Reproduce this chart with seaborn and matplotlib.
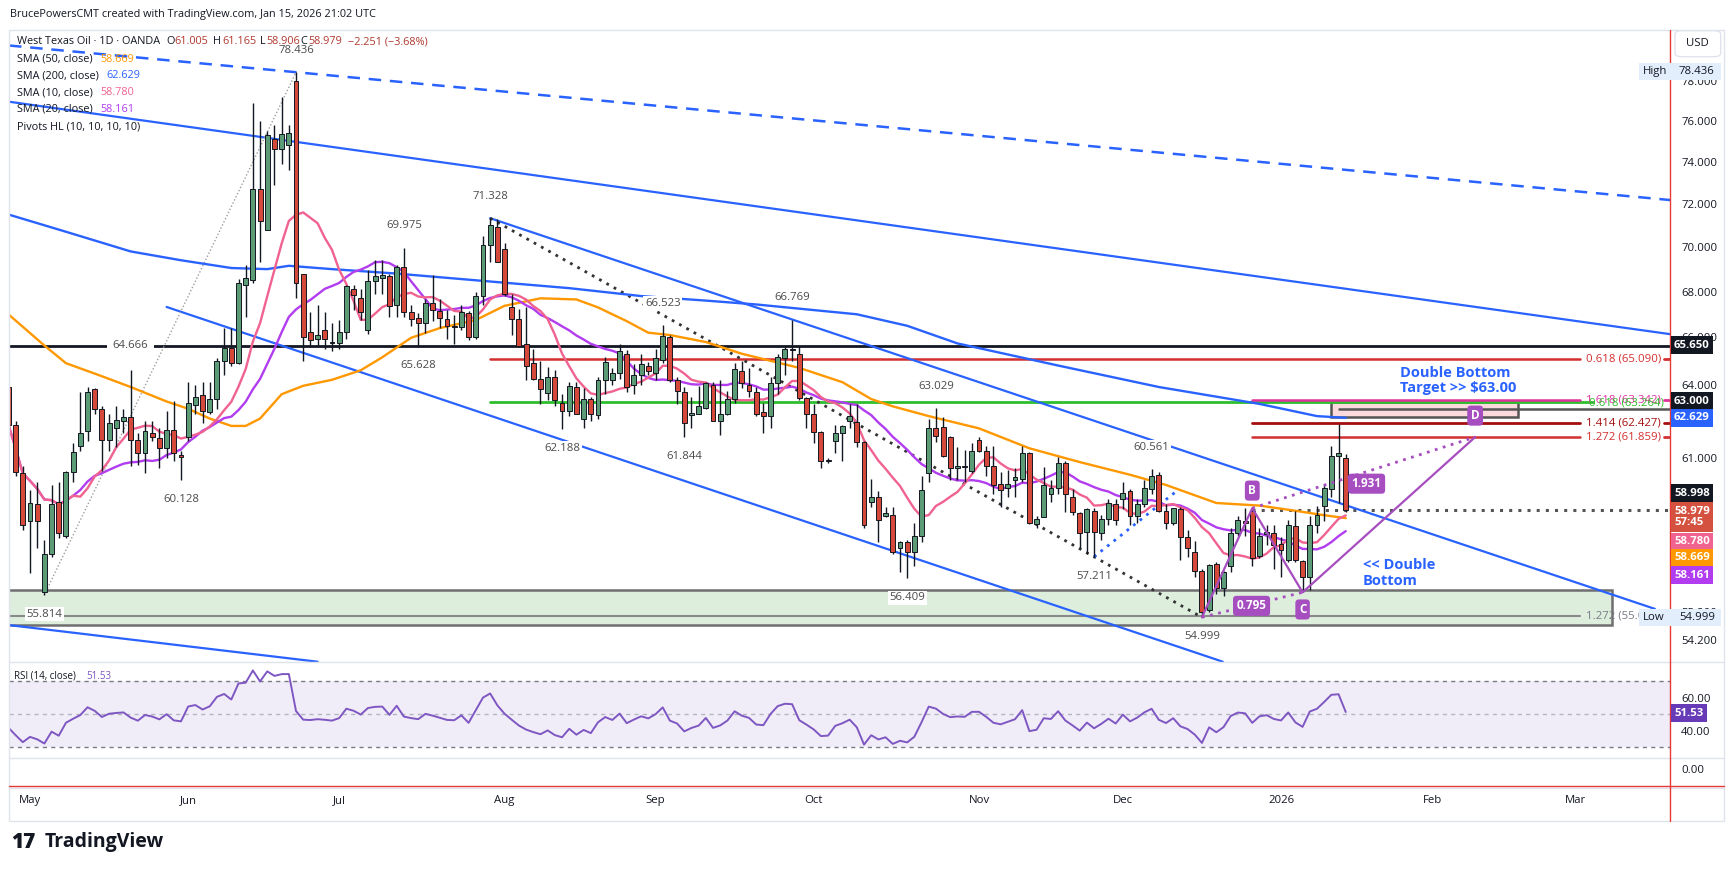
import numpy as np
import pandas as pd
import matplotlib
matplotlib.use('Agg')
import matplotlib.pyplot as plt
import seaborn as sns
from matplotlib.patches import Rectangle, FancyBboxPatch
from matplotlib.lines import Line2D
from matplotlib.ticker import FixedLocator, FuncFormatter, NullLocator, NullFormatter

# ---- daily bars: bar 0 = 1 May 2025 (weekdays, no 25 Dec / 1 Jan) ----
first_bar = -3
opens = [
    63.9, 62.35, 60.4, 58.56, 59.2, 55.9, 57.3, 59.3, 58.0, 60.45,
    61.5, 62.1, 63.8, 63.0, 61.75, 62.2, 62.5, 62.65, 61.75, 61.2,
    62.0, 61.8, 61.4, 62.15, 61.15, 61.85, 63.15, 63.55, 62.85, 63.4,
    65.0, 65.55, 64.9, 68.3, 68.5, 72.7, 70.8, 75.1, 74.6, 74.8,
    78.0, 68.8, 66.25, 65.95, 66.3, 65.8, 65.75, 66.25, 68.1, 67.7,
    66.3, 68.45, 68.6, 68.7, 67.4, 69.1, 67.1, 66.85, 66.6, 67.5,
    67.15, 66.8, 66.5, 66.45, 67.05, 66.0, 67.8, 70.1, 70.9, 69.9,
    67.3, 66.8, 65.7, 64.9, 64.25, 63.65, 64.3, 63.25, 62.9, 63.9,
    62.6, 63.4, 62.75, 64.2, 64.2, 64.5, 65.3, 64.0, 64.4, 64.8,
    64.5, 65.05, 66.0, 64.2, 63.7, 62.75, 62.8, 63.05, 64.0, 62.5,
    62.8, 63.4, 64.55, 64.0, 63.7, 62.85, 62.7, 64.05, 65.1, 65.5,
    65.3, 63.45, 62.8, 62.05, 60.9, 61.7, 62.0, 62.5, 62.45, 61.65,
    59.3, 59.5, 58.75, 58.8, 57.55, 57.75, 57.4, 58.0, 60.4, 62.2,
    62.25, 61.85, 60.6, 60.7, 60.5, 61.75, 61.3, 60.7, 60.0, 59.85,
    60.15, 60.2, 61.2, 58.45, 58.7, 59.6, 59.85, 60.8, 59.5, 58.85,
    58.15, 58.95, 58.1, 58.65, 59.2, 59.4, 59.7, 58.75, 59.2, 59.8,
    60.35, 58.95, 58.5, 59.0, 57.95, 57.4, 56.7, 55.25, 56.95, 56.05,
    56.85, 58.1, 58.55, 58.95, 57.25, 58.05, 58.1, 57.7, 57.1, 58.35,
    57.05, 56.45, 58.4, 59.15, 59.8, 61.1, 61.005,
]
highs = [
    64.0, 62.5, 60.7, 59.75, 60.05, 57.84, 59.95, 60.05, 60.5, 61.6,
    63.7, 63.9, 63.85, 63.1, 62.8, 63.1, 63.0, 64.6, 62.0, 62.5,
    62.5, 62.2, 62.9, 63.3, 61.3, 64.1, 64.0, 64.1, 64.1, 65.1,
    66.4, 66.4, 68.55, 69.2, 76.9, 76.0, 75.5, 75.8, 77.2, 75.8,
    78.436, 68.8, 67.1, 67.4, 67.1, 66.6, 66.75, 68.3, 68.3, 68.1,
    68.95, 69.4, 69.4, 68.8, 69.2, 69.975, 67.4, 67.05, 67.65, 68.75,
    67.65, 67.2, 66.95, 67.4, 67.15, 68.0, 70.5, 71.328, 71.3, 70.2,
    67.9, 67.25, 67.3, 65.5, 65.0, 64.75, 64.6, 63.6, 64.1, 64.1,
    63.85, 63.5, 64.3, 65.15, 64.7, 65.7, 65.45, 64.85, 65.3, 64.95,
    65.5, 66.523, 66.1, 64.3, 63.9, 63.5, 63.95, 64.1, 64.1, 64.2,
    63.75, 64.9, 65.0, 64.7, 63.9, 63.25, 64.3, 65.3, 65.6, 66.769,
    65.65, 63.5, 63.2, 62.1, 61.0, 62.35, 62.35, 63.2, 63.2, 61.7,
    60.2, 59.7, 59.1, 59.1, 57.8, 57.85, 58.5, 60.3, 62.6, 63.029,
    62.65, 61.9, 61.45, 61.35, 61.6, 61.85, 61.5, 61.5, 60.45, 60.55,
    60.6, 61.5, 61.25, 58.75, 60.65, 60.15, 61.05, 60.9, 59.8, 58.9,
    59.05, 59.05, 58.8, 59.4, 59.4, 60.05, 59.8, 59.4, 60.15, 60.561,
    60.45, 59.2, 59.05, 59.1, 58.2, 57.8, 56.75, 56.95, 57.0, 56.7,
    58.3, 58.75, 59.07, 59.05, 58.3, 58.4, 58.4, 57.95, 58.6, 58.95,
    57.1, 58.75, 59.15, 59.95, 61.5, 62.37, 61.165,
]
lows = [
    62.2, 60.3, 58.2, 56.6, 57.55, 55.814, 57.2, 57.9, 57.9, 60.05,
    61.3, 61.7, 62.8, 60.5, 61.3, 61.45, 62.0, 60.7, 60.75, 60.4,
    61.7, 60.6, 61.0, 60.9, 60.128, 61.7, 62.8, 62.4, 62.8, 63.0,
    64.4, 64.8, 64.85, 66.9, 68.4, 69.3, 70.8, 72.9, 73.9, 73.6,
    67.7, 65.0, 65.6, 65.65, 65.5, 65.4, 65.5, 65.95, 67.2, 66.75,
    66.15, 67.9, 67.9, 66.9, 66.9, 66.9, 66.5, 65.628, 66.2, 66.7,
    66.4, 65.95, 65.7, 66.3, 65.9, 65.95, 67.4, 69.3, 69.3, 67.8,
    66.1, 65.6, 64.2, 64.2, 63.2, 63.35, 63.1, 62.188, 62.7, 62.8,
    62.2, 62.5, 62.6, 63.6, 64.0, 64.25, 63.7, 63.6, 64.0, 64.4,
    64.2, 64.9, 64.1, 63.2, 61.844, 62.2, 62.8, 63.0, 62.5, 61.95,
    62.75, 63.25, 63.85, 63.5, 62.7, 62.0, 62.2, 63.6, 64.4, 65.0,
    63.35, 62.2, 61.6, 60.6, 60.8, 61.2, 60.9, 62.2, 61.45, 58.3,
    59.1, 57.75, 58.7, 57.3, 56.65, 56.409, 56.85, 57.77, 60.05, 61.65,
    61.05, 60.15, 60.15, 60.05, 60.4, 61.25, 60.3, 59.6, 59.1, 59.5,
    59.5, 60.05, 58.45, 58.3, 58.7, 59.3, 59.6, 58.9, 58.8, 57.55,
    57.3, 57.211, 57.85, 58.4, 58.4, 59.0, 58.4, 58.5, 59.1, 59.6,
    58.9, 58.25, 58.4, 57.1, 57.2, 56.45, 54.999, 55.2, 55.85, 55.75,
    56.65, 58.0, 58.0, 56.85, 57.15, 57.65, 56.75, 56.45, 57.0, 57.0,
    55.9, 56.0, 58.1, 58.55, 59.5, 59.25, 58.906,
]
closes = [
    62.35, 60.45, 58.4, 59.25, 58.56, 57.3, 59.2, 58.1, 60.45, 61.25,
    62.0, 63.7, 63.0, 61.75, 62.4, 62.55, 62.65, 61.75, 61.2, 62.1,
    61.85, 61.4, 62.15, 61.2, 61.05, 63.25, 63.5, 62.9, 63.4, 65.0,
    65.55, 64.9, 68.4, 68.6, 72.7, 71.2, 75.3, 74.6, 75.35, 75.4,
    68.4, 66.0, 65.9, 66.1, 65.95, 65.75, 66.25, 68.25, 67.85, 67.1,
    68.45, 68.7, 68.75, 67.35, 69.1, 67.1, 66.8, 66.6, 67.5, 67.2,
    66.85, 66.5, 66.45, 67.1, 66.0, 67.8, 70.1, 71.0, 69.3, 67.9,
    66.8, 65.65, 64.8, 64.25, 63.8, 64.3, 63.35, 62.9, 63.95, 62.8,
    63.4, 62.8, 64.2, 64.95, 64.5, 65.4, 63.9, 64.4, 64.85, 64.55,
    65.1, 66.05, 64.2, 63.75, 62.4, 62.82, 63.1, 64.05, 62.5, 62.8,
    63.4, 64.65, 64.05, 63.75, 62.8, 62.7, 64.05, 65.15, 65.5, 65.45,
    63.45, 62.8, 62.05, 60.9, 60.95, 62.0, 62.3, 62.7, 61.65, 58.4,
    59.5, 58.6, 58.85, 57.4, 57.75, 57.4, 58.0, 59.75, 62.2, 61.9,
    61.1, 60.6, 60.7, 60.65, 61.3, 61.3, 60.7, 59.95, 59.75, 60.0,
    60.25, 61.2, 58.5, 58.65, 59.95, 59.85, 60.8, 59.6, 58.9, 58.1,
    59.0, 58.15, 58.65, 59.25, 58.6, 59.65, 58.75, 59.2, 59.85, 60.3,
    58.95, 58.5, 59.05, 57.95, 57.55, 56.7, 55.2, 56.9, 56.05, 56.65,
    58.1, 58.6, 58.5, 57.15, 58.0, 58.15, 57.65, 57.45, 58.4, 57.1,
    56.45, 58.4, 58.8, 59.85, 61.1, 61.2, 58.979,
]

# SMA 50 / SMA 200 (bar, value)
sma50_bars = [-3, 2, 5, 10, 14, 19, 22, 25, 28, 30, 32, 35, 38, 42, 46, 49, 53, 57, 62, 66, 71, 76, 79, 83,
              86, 89, 94, 99, 103, 107, 113, 117, 120, 125, 132, 139, 146, 153, 158, 165, 171, 176, 180, 183]
sma50_vals = [67.0, 65.65, 64.9, 64.35, 63.9, 63.3, 63.0, 62.6, 62.3, 62.3, 62.6, 63.6, 63.95, 64.2, 64.6, 65.15,
              65.98, 66.4, 66.75, 67.37, 67.7, 67.65, 67.3, 66.7, 66.2, 66.1, 65.8, 65.3, 65.0, 64.7, 64.1, 63.4,
              63.1, 62.7, 62.2, 61.4, 60.85, 60.35, 59.95, 59.25, 59.15, 58.95, 58.78, 58.669]
sma200_bars = [-3, 5, 14, 21, 28, 33, 36, 42, 51, 62, 75, 85, 94, 101, 115, 122, 129, 143, 157, 171, 179, 183]
sma200_vals = [71.5, 70.7, 69.8, 69.4, 69.05, 69.0, 69.15, 69.0, 68.8, 68.5, 68.15, 67.8, 67.6, 67.43, 67.0,
               66.5, 65.74, 64.8, 63.9, 63.2, 62.7, 62.629]

# starting Wilder averages for RSI(14) at the first bar
rsi_gain0, rsi_loss0 = 0.50, 0.69

pivot_high_bars = [37, 52, 64, 88, 106, 126, 156]
pivot_low_bars = [2, 21, 54, 74, 91, 122, 148, 163]

month_bars = [0, 22, 43, 66, 87, 109, 132, 152, 174, 195, 215]
month_names = ['May', 'Jun', 'Jul', 'Aug', 'Sep', 'Oct', 'Nov', 'Dec', '2026', 'Feb', 'Mar']
price_ticks = [54.2, 55.2, 61, 64, 66, 68, 70, 72, 74, 76, 78]

# ---------------- style ----------------
sns.set_theme(style='white')
plt.rcParams['font.family'] = ['Open Sans', 'DejaVu Sans']

UP, DOWN, INK = '#5b9c76', '#d4493a', '#131722'
BLUE, ORANGE, PINK, PURPLE = '#2962ff', '#ff9800', '#f0628f', '#b23cf0'
RSI_C, PATTERN = '#7e57c2', '#a64dbf'
FIB_RED, FIB_DARK, FIB_GREEN, FIB_MAG, FIB_GREY = '#d32f2f', '#a50e0e', '#2dbf2d', '#e0309e', '#8a8a8a'
FS = 7.8  # small chart text

W, H = 1735, 872
fig = plt.figure(figsize=(W / 100, H / 100), dpi=100)
fig.patch.set_facecolor('white')


def fx(x):
    return x / W


def fy(y):
    return 1 - y / H


PANE_L, PANE_R = 9, 1670


def pane(top, bottom, share=None):
    a = fig.add_axes([fx(PANE_L), fy(bottom), (PANE_R - PANE_L) / W, (bottom - top) / H], sharex=share)
    a.set_facecolor('white')
    for s in a.spines.values():
        s.set_visible(False)
    return a


ax = pane(30, 662)
ax_rsi = pane(662, 758, ax)
ax_low = pane(758, 788, ax)

df = pd.DataFrame({'bar': np.arange(first_bar, first_bar + len(closes)),
                   'open': opens, 'high': highs, 'low': lows, 'close': closes})
df['sma10'] = df['close'].rolling(10, min_periods=1).mean()
df['sma20'] = df['close'].rolling(20, min_periods=1).mean()

ag, al = rsi_gain0, rsi_loss0
rsi = [100 - 100 / (1 + ag / al)]
for d in np.diff(df['close'].values):
    ag = (ag * 13 + max(d, 0)) / 14
    al = (al * 13 + max(-d, 0)) / 14
    rsi.append(100 - 100 / (1 + ag / al))
df['rsi'] = rsi

sma50 = pd.DataFrame({'bar': sma50_bars, 'value': sma50_vals})
sma200 = pd.DataFrame({'bar': sma200_bars, 'value': sma200_vals})

# ---------------- price pane ----------------
ax.set_yscale('log')

# support zone
ax.add_patch(Rectangle((-5, 54.72), 225, 56.0 - 54.72, fc='#ddeedd', ec='#6f6f6f', lw=1.8, zorder=1))
# target box
ax.add_patch(Rectangle((180.9, 62.65), 26.1, 63.28 - 62.65, fc='#fbd9dc', ec='#555555', lw=1.8, zorder=2))
ax.plot([182, 240], [63.0, 63.0], color='#555555', lw=1.8, zorder=2)

# horizontal levels
ax.plot([-5, 240], [65.65, 65.65], color=INK, lw=2, zorder=2)
ax.plot([64, 215.6], [65.09, 65.09], color=FIB_RED, lw=1.8, zorder=2)
ax.plot([64, 217.4], [63.264, 63.264], color=FIB_GREEN, lw=2, zorder=2)
ax.plot([170, 215.6], [63.342, 63.342], color=FIB_MAG, lw=1.8, zorder=2)
ax.plot([170, 215.6], [62.427, 62.427], color=FIB_DARK, lw=2, zorder=2)
ax.plot([170, 215.6], [61.859, 61.859], color=FIB_RED, lw=1.8, zorder=2)
ax.plot([-5, 215.6], [55.05, 55.05], color=FIB_GREY, lw=1.5, zorder=1.5)
ax.plot([170, 240], [58.998, 58.998], color='#555555', lw=2.2, ls=(0, (1, 2)), zorder=2)
for lvl, col in [(65.09, FIB_RED), (63.342, FIB_MAG), (62.427, FIB_DARK), (61.859, FIB_RED)]:
    ax.plot([227.3, 228.2], [lvl, lvl], color=col, lw=2, zorder=2)

# trend / channel lines
ax.plot([-2.92, 228.3], [79.82, 72.17], color=BLUE, lw=1.8, ls=(0, (5, 3.5)), zorder=2)
ax.plot([-2.92, 228.3], [76.95, 66.13], color=BLUE, lw=1.6, zorder=2)
ax.plot([19.0, 165.9], [67.32, 53.43], color=BLUE, lw=1.6, zorder=2)
ax.plot([64, 226], [71.328, 55.3], color=BLUE, lw=1.6, zorder=2)
ax.plot([-2.92, 40], [54.72, 53.43], color=BLUE, lw=1.6, zorder=2)

# zigzag / dotted guides
ax.plot([2, 37], [55.814, 78.436], color='#9e9e9e', lw=1, ls=(0, (1, 1.5)), zorder=2)
ax.plot([64, 163], [71.328, 54.999], color='#333333', lw=2, ls=(0, (1, 2)), zorder=2)
ax.plot([148, 159.7], [57.211, 59.76], color=BLUE, lw=2, ls=(0, (1, 2)), zorder=2)

# moving averages
sns.lineplot(data=sma200, x='bar', y='value', ax=ax, color=BLUE, linewidth=1.7, zorder=3)
sns.lineplot(data=sma50, x='bar', y='value', ax=ax, color=ORANGE, linewidth=1.7, zorder=3)
sns.lineplot(data=df, x='bar', y='sma20', ax=ax, color=PURPLE, linewidth=1.7, zorder=3)
sns.lineplot(data=df, x='bar', y='sma10', ax=ax, color=PINK, linewidth=1.7, zorder=3)

# candles
rising = df['close'] >= df['open']
body_low = df[['open', 'close']].min(axis=1)
body_h = (df['close'] - df['open']).abs().clip(lower=0.04)
ax.vlines(df['bar'], df['low'], df['high'], color=INK, lw=1, zorder=5)
ax.bar(df['bar'], body_h, bottom=body_low, width=0.68, color=np.where(rising, UP, DOWN),
       edgecolor=INK, linewidth=0.7, zorder=6)

# ABCD pattern
ax.plot([163, 170, 177, 201], [54.999, 59.05, 55.9, 61.85], color=PATTERN, lw=1.6, zorder=7)
ax.plot([163, 177], [54.999, 55.9], color=PATTERN, lw=2, ls=(0, (1, 2)), zorder=7)
ax.plot([170, 201], [59.05, 61.85], color=PATTERN, lw=2, ls=(0, (1, 2)), zorder=7)
for xb, yb, t in [(170, 59.73, 'B'), (177, 55.28, 'C'), (201, 62.72, 'D'), (169.9, 55.41, '0.795'),
                  (185.9, 60.0, '1.931')]:
    ax.text(xb, yb, t, ha='center', va='center', fontsize=8.5, color='white', fontweight='bold', zorder=9,
            bbox=dict(boxstyle='round,pad=0.3', fc=PATTERN, ec='none'))

# pivot labels
lab_box = dict(boxstyle='square,pad=0.15', fc='white', ec='none')
for b in pivot_high_bars:
    v = df.loc[df['bar'] == b, 'high'].iloc[0]
    ax.annotate(f'{v:.3f}', xy=(b, v), xytext=(0, 15.8), textcoords='offset points', ha='center', va='center',
                fontsize=8.2, color='#4a4a4a', bbox=lab_box, zorder=8)
for b in pivot_low_bars:
    v = df.loc[df['bar'] == b, 'low'].iloc[0]
    ax.annotate(f'{v:.3f}', xy=(b, v), xytext=(0, -14), textcoords='offset points', ha='center', va='center',
                fontsize=8.2, color='#4a4a4a', bbox=lab_box, zorder=8)
ax.text(14, 65.65, '64.666', ha='center', va='center', fontsize=8.2, color='#4a4a4a',
        bbox=dict(boxstyle='square,pad=0.5', fc='white', ec='none'), zorder=8)

# fib level labels
ax.text(216.4, 65.09, '0.618 (65.090)', ha='left', va='center', fontsize=8.2, color=FIB_RED, zorder=8)
ax.text(216.4, 63.36, '1.618 (63.342)', ha='left', va='center', fontsize=8.2, color=FIB_MAG, zorder=8)
ax.text(216.9, 63.24, '0.618 (63.264)', ha='left', va='center', fontsize=8.2, color=FIB_GREEN, zorder=8)
ax.text(216.4, 62.427, '1.414 (62.427)', ha='left', va='center', fontsize=8.2, color=FIB_DARK, zorder=8)
ax.text(216.4, 61.859, '1.272 (61.859)', ha='left', va='center', fontsize=8.2, color=FIB_RED, zorder=8)
ax.text(216.4, 55.05, '1.272 (55.050)', ha='left', va='center', fontsize=8.2, color='#787b86', zorder=8)

# notes
note = dict(fontsize=10.5, color=BLUE, fontweight='bold', ha='left', va='center', zorder=8)
ax.text(190.5, 64.5, 'Double Bottom', **note)
ax.text(190.5, 63.85, 'Target >> $63.00', **note)
ax.text(185.4, 56.9, '<< Double', **note)
ax.text(185.4, 56.33, 'Bottom', **note)

ax.set_xlim(-2.92, 228.1)
ax.set_ylim(53.42, 80.63)
ax.yaxis.tick_right()
ax.yaxis.set_major_locator(FixedLocator(price_ticks))
ax.yaxis.set_minor_locator(NullLocator())
ax.yaxis.set_minor_formatter(NullFormatter())
ax.yaxis.set_major_formatter(FuncFormatter(lambda v, _: f'{v:.3f}'))
ax.tick_params(axis='y', length=0, pad=8, labelsize=8.2, labelcolor=INK)
ax.tick_params(axis='x', length=0, labelbottom=False)
ax.set_xlabel('')
ax.set_ylabel('')

# ---------------- RSI pane ----------------
ax_rsi.axhspan(30, 70, color=RSI_C, alpha=0.1, lw=0)
ax_rsi.axhline(70, color='#787b86', lw=1, ls=(0, (3, 3)))
ax_rsi.axhline(50, color='#b2b5be', lw=1, ls=(0, (3, 3)))
ax_rsi.axhline(30, color='#787b86', lw=1, ls=(0, (3, 3)))
sns.lineplot(data=df, x='bar', y='rsi', ax=ax_rsi, color=RSI_C, linewidth=1.4)
ax_rsi.set_ylim(23.6, 81.8)
ax_rsi.yaxis.tick_right()
ax_rsi.set_yticks([40, 60])
ax_rsi.set_yticklabels(['40.00', '60.00'])
ax_rsi.tick_params(axis='y', length=0, pad=8, labelsize=8.2, labelcolor=INK)
ax_rsi.tick_params(axis='x', length=0, labelbottom=False)
ax_rsi.set_xlabel('')
ax_rsi.set_ylabel('')

# ---------------- bottom pane + time axis ----------------
ax_low.set_ylim(-19, 11)
ax_low.yaxis.tick_right()
ax_low.set_yticks([0])
ax_low.set_yticklabels(['0.00'])
ax_low.tick_params(axis='y', length=0, pad=8, labelsize=8.2, labelcolor=INK)
ax_low.set_xticks(month_bars)
ax_low.set_xticklabels(month_names)
ax_low.tick_params(axis='x', length=0, pad=5, labelsize=8.2, labelcolor=INK)
ax_low.set_xlim(-2.92, 228.1)

# ---------------- frame, separators, crosshair ----------------
fig.add_artist(Rectangle((fx(9), fy(821)), (1724 - 9) / W, (821 - 30) / H, transform=fig.transFigure,
                         fc='none', ec='#e0e3eb', lw=1, zorder=1))
for ysep in [662, 758, 788]:
    fig.add_artist(Line2D([fx(9), fx(1724)], [fy(ysep), fy(ysep)], color='#e0e3eb', lw=1, zorder=2))
fig.add_artist(Line2D([fx(1670), fx(1670)], [fy(30), fy(821)], color='#e53935', lw=1, zorder=4))
fig.add_artist(Line2D([fx(9), fx(1724)], [fy(786), fy(786)], color='#e53935', lw=1, zorder=4))

# ---------------- header & legend ----------------
fig.text(fx(10), fy(15), 'BrucePowersCMT created with TradingView.com, Jan 15, 2026 21:02 UTC',
         fontsize=FS, color=INK, va='center')
fig.text(fx(17), fy(42), 'West Texas Oil · 1D · OANDA', fontsize=FS, color=INK, va='center')
VAL_RED = '#b0392f'
for xl, letter, xv, val in [(166, 'O', 174, '61.005'), (213, 'H', 222, '61.165'), (260, 'L', 266, '58.906'),
                            (300, 'C', 308, '58.979')]:
    fig.text(fx(xl), fy(42), letter, fontsize=FS, color=INK, va='center')
    fig.text(fx(xv), fy(42), val, fontsize=FS, color=VAL_RED, va='center')
fig.text(fx(348), fy(42), '\u22122.251 (\u22123.68%)', fontsize=FS, color=VAL_RED, va='center')

legend_rows = [(59, 'SMA (50, close)', 100, '58.669', ORANGE), (76, 'SMA (200, close)', 106, '62.629', BLUE),
               (92.7, 'SMA (10, close)', 100, '58.780', PINK), (109.3, 'SMA (20, close)', 100, '58.161', PURPLE)]
for yl, name, xv, val, col in legend_rows:
    fig.text(fx(17), fy(yl), name, fontsize=FS, color=INK, va='center', zorder=6)
    fig.text(fx(xv), fy(yl), val, fontsize=FS, color=col, va='center', zorder=6)
fig.text(fx(17), fy(126.7), 'Pivots HL (10, 10, 10, 10)', fontsize=FS, color=INK, va='center', zorder=6)

fig.text(fx(14), fy(676), 'RSI (14, close)', fontsize=7.0, color=INK, va='center', zorder=6)
fig.text(fx(86), fy(676), '51.53', fontsize=7.0, color=RSI_C, va='center', zorder=6)

# ---------------- right axis boxes ----------------
fig.add_artist(FancyBboxPatch((fx(1675), fy(56.7)), (1720.7 - 1675) / W, 26 / H, boxstyle='round,pad=0,rounding_size=0.004',
                              transform=fig.transFigure, fc='white', ec='#e0e3eb', lw=1, zorder=5))
fig.text(fx(1697.8), fy(44), 'USD', fontsize=8.2, color=INK, ha='center', va='center', zorder=6)

for ytop, label, val in [(63.5, 'High', '78.436'), (609.3, 'Low', '54.999')]:
    fig.add_artist(Rectangle((fx(1639), fy(ytop + 16.5)), (1721 - 1639) / W, 16.5 / H, transform=fig.transFigure,
                             fc='#e3eefc', ec='none', zorder=7))
    fig.text(fx(1643), fy(ytop + 8.3), label, fontsize=8.2, color=INK, va='center', zorder=8)
    fig.text(fx(1679), fy(ytop + 8.3), val, fontsize=8.2, color=INK, va='center', zorder=8)


def axis_box(y, text, fc, tc='white'):
    fig.text(fx(1674), fy(y), text, ha='left', va='center', fontsize=8.2, color=tc, fontweight='bold',
             linespacing=1.05, zorder=8, bbox=dict(boxstyle='square,pad=0.3', fc=fc, ec='none'))


axis_box(345, '65.650', INK)
axis_box(401, '63.000', INK)
axis_box(418, '62.629', BLUE)
axis_box(493, '58.998', INK)
axis_box(517, '58.979\n57:45', '#d5513f')
axis_box(541.7, '58.780', PINK)
axis_box(558, '58.669', ORANGE)
axis_box(575, '58.161', PURPLE)
axis_box(713, '51.53', '#673ab7')

# ---------------- logo ----------------
fig.text(fx(11), fy(842), '17', fontsize=15, color=INK, fontweight='heavy', va='center')
fig.text(fx(45), fy(842), 'TradingView', fontsize=14, color=INK, fontweight='bold', va='center')

fig.savefig('out.png', dpi=100, facecolor='white')
